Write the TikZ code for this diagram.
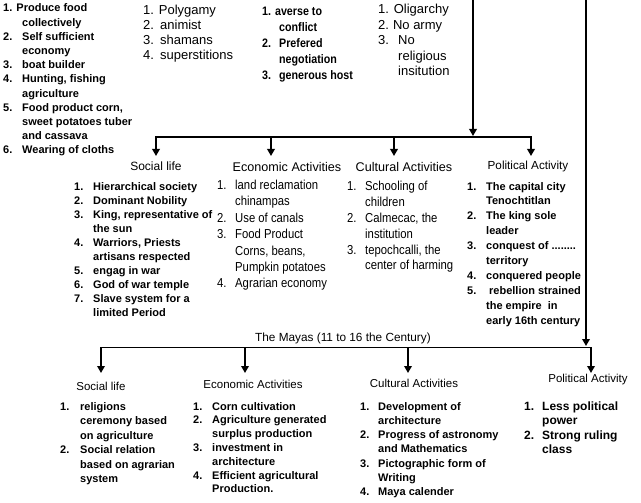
\documentclass[tikz,border=0pt]{standalone}
\usepackage{fontspec}
\setmainfont{Liberation Sans}
\newfontfamily\narrowfont[FakeStretch=0.87]{Liberation Sans}
\usetikzlibrary{arrows.meta}
\newcommand{\itemlist}[2]{\begin{tabular}[t]{@{}p{#1}@{}l@{}}#2\end{tabular}}
\tikzset{
  lst/.style={inner sep=0pt, anchor=base west},
  head/.style={inner sep=0pt},
  bhead/.style={inner sep=0pt, font=\fontsize{11.5}{14}\selectfont},
  bus/.style={line width=1.8pt, line cap=rect},
  arr/.style={line width=1.8pt, -{Triangle[width=7.5pt,length=7pt]}}
}
\begin{document}
\begin{tikzpicture}[x=1pt,y=-1pt]
\fill[white] (0,0) rectangle (641,503);
\useasboundingbox (0,0) rectangle (641,503);

% ---------- top lists ----------
\node[lst] (tl) at (3,12) {\fontsize{11}{14.2}\selectfont\bfseries\itemlist{19pt}{%
\multicolumn{2}{@{}l@{}}{1. Produce food}\\
 & collectively\\
2. & Self sufficient\\
 & economy\\
3. & boat builder\\
4. & Hunting, fishing\\
 & agriculture\\
5. & Food product corn,\\
 & sweet potatoes tuber\\
 & and cassava\\
6. & Wearing of cloths}};

\node[lst] (poly) at (143,15) {\fontsize{13}{15}\selectfont\itemlist{17pt}{%
\multicolumn{2}{@{}l@{}}{1. Polygamy}\\
2. & animist\\
3. & shamans\\
4. & superstitions}};

\node[lst] (averse) at (262,15.5) {\fontsize{12.3}{16}\selectfont\narrowfont\bfseries\itemlist{17pt}{%
\multicolumn{2}{@{}l@{}}{1. averse to}\\
 & conflict\\
2. & Prefered\\
 & negotiation\\
3. & generous host}};

\node[lst] (olig) at (378,14) {\fontsize{13}{15.5}\selectfont\itemlist{20pt}{%
\multicolumn{2}{@{}l@{}}{1. Oligarchy}\\
\multicolumn{2}{@{}l@{}}{2.\hspace{4pt}No army}\\
3. & No\\
 & religious\\
 & insitution}};

% ---------- top connectors ----------
\coordinate (srcA) at (473,0);
\coordinate (joinA) at (473,136);
\coordinate (busA1) at (156,137);
\coordinate (busA2) at (271,137);
\coordinate (busA3) at (394,137);
\coordinate (busA4) at (531,137);
\coordinate (tA1) at (156,156);
\coordinate (tA2) at (271,156);
\coordinate (tA3) at (394,156);
\coordinate (tA4) at (531,156);
\draw[arr] (srcA) -- (joinA);
\draw[bus] (busA1) -- (busA4);
\draw[arr] (busA1) -- (tA1);
\draw[arr] (busA2) -- (tA2);
\draw[arr] (busA3) -- (tA3);
\draw[arr] (busA4) -- (tA4);

% ---------- top headings ----------
\node[head, font=\fontsize{12}{14}\selectfont] (h1) at (156,166) {Social life};
\node[head, font=\fontsize{12.6}{15}\selectfont] (h2) at (287,167) {Economic Activities};
\node[head, font=\fontsize{12.6}{15}\selectfont] (h3) at (404,167) {Cultural Activities};
\node[head, font=\fontsize{11.7}{14}\selectfont] (h4) at (528,166) {Political Activity};

% ---------- middle lists ----------
\node[lst] (l1) at (74,190) {\fontsize{11}{14.1}\selectfont\bfseries\itemlist{19pt}{%
1. & Hierarchical society\\
2. & Dominant Nobility\\
3. & King, representative of\\
 & the sun\\
4. & Warriors, Priests\\
 & artisans respected\\
5. & engag in war\\
6. & God of war temple\\
7. & Slave system for a\\
 & limited Period}};

\node[lst] (l2) at (217,189.5) {\fontsize{13}{16.4}\selectfont\narrowfont\itemlist{18pt}{%
1. & land reclamation\\
 & chinampas\\
2. & Use of canals\\
3. & Food Product\\
 & Corns, beans,\\
 & Pumpkin potatoes\\
4. & Agrarian economy}};

\node[lst] (l3) at (347,190.5) {\fontsize{13}{15.9}\selectfont\narrowfont\itemlist{18pt}{%
1. & Schooling of\\
 & children\\
2. & Calmecac, the\\
 & institution\\
3. & tepochcalli, the\\
 & center of harming}};

\node[lst] (l4) at (467,190) {\fontsize{11}{14.9}\selectfont\bfseries\itemlist{19pt}{%
1. & The capital city\\
 & Tenochtitlan\\
2. & The king sole\\
 & leader\\
3. & conquest of ........\\
 & territory\\
4. & conquered people\\
5. & \hspace{3pt}rebellion strained\\
 & the empire\ \ in\\
 & early 16th century}};

% ---------- right connector and bottom bus ----------
\coordinate (srcB) at (586,0);
\coordinate (joinB) at (586,346);
\coordinate (busB1) at (101,347.5);
\coordinate (busB2) at (245,347.5);
\coordinate (busB3) at (408,347.5);
\coordinate (busB4) at (591,347.5);
\coordinate (tB1) at (101,373);
\coordinate (tB2) at (245,373);
\coordinate (tB3) at (408,373);
\coordinate (tB4) at (591,373);
\draw[arr] (srcB) -- (joinB);
\draw[bus] (busB1) -- (busB4);
\draw[arr] (busB1) -- (tB1);
\draw[arr] (busB2) -- (tB2);
\draw[arr] (busB3) -- (tB3);
\draw[arr] (busB4) -- (tB4);

\node[inner sep=0pt, font=\fontsize{11.8}{14}\selectfont] (mayas) at (343,338) {The Mayas (11 to 16 the Century)};

% ---------- bottom headings ----------
\node[bhead] (b1) at (101,386) {Social life};
\node[bhead] (b2) at (253,384) {Economic Activities};
\node[bhead] (b3) at (414,383) {Cultural Activities};
\node[bhead] (b4) at (588,380) {Political Activity};

% ---------- bottom lists ----------
\node[lst] (m1) at (60,410) {\fontsize{11}{14.5}\selectfont\bfseries\itemlist{20pt}{%
1. & religions\\
 & ceremony based\\
 & on agriculture\\
2. & Social relation\\
 & based on agrarian\\
 & system}};

\node[lst] (m2) at (193,410) {\fontsize{11}{13.8}\selectfont\bfseries\itemlist{19pt}{%
1. & Corn cultivation\\
2. & Agriculture generated\\
 & surplus production\\
3. & investment in\\
 & architecture\\
4. & Efficient agricultural\\
 & Production.}};

\node[lst] (m3) at (360,410) {\fontsize{11}{14.3}\selectfont\bfseries\itemlist{18pt}{%
1. & Development of\\
 & architecture\\
2. & Progress of astronomy\\
 & and Mathematics\\
3. & Pictographic form of\\
 & Writing\\
4. & Maya calender}};

\node[lst] (m4) at (524,410.5) {\fontsize{12}{14.3}\selectfont\bfseries\itemlist{18pt}{%
1. & Less political\\
 & power\\
2. & Strong ruling\\
 & class}};
\end{tikzpicture}
\end{document}
